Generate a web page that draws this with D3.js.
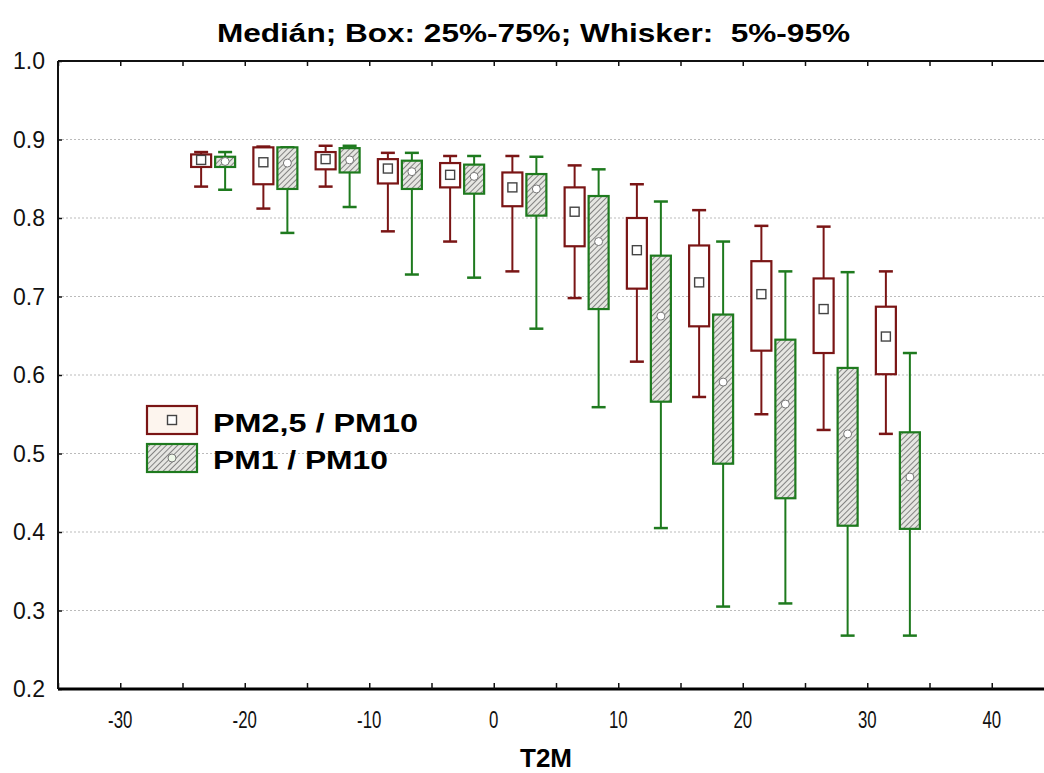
<!DOCTYPE html>
<html lang="cs">
<head>
<meta charset="UTF-8">
<title>Medián; Box: 25%-75%; Whisker: 5%-95%</title>
<script src="https://d3js.org/d3.v7.min.js"></script>
<style>
    body { margin: 0; background: #fff; font-family: "Liberation Sans", Arial, sans-serif; }
    svg { display: block; }
    .grid line { stroke: #bbb; stroke-width: 1; stroke-dasharray: 2 2; }
</style>
</head>
<body>
<svg id="chart" width="1044" height="773"></svg>
<script>
    // T2M class centres
    const groups = [-22.5, -17.5, -12.5, -7.5, -2.5, 2.5, 7.5, 12.5, 17.5, 22.5, 27.5, 32.5];

    // PM2,5 / PM10
    const pm25Lo  = [0.840, 0.812, 0.840, 0.783, 0.770, 0.732, 0.698, 0.617, 0.572, 0.550, 0.530, 0.525];
    const pm25Q1  = [0.865, 0.843, 0.862, 0.844, 0.839, 0.815, 0.764, 0.710, 0.662, 0.631, 0.628, 0.601];
    const pm25Med = [0.874, 0.871, 0.875, 0.863, 0.855, 0.839, 0.808, 0.759, 0.718, 0.703, 0.684, 0.649];
    const pm25Q3  = [0.881, 0.890, 0.884, 0.875, 0.870, 0.858, 0.839, 0.800, 0.765, 0.745, 0.723, 0.687];
    const pm25Hi  = [0.884, 0.891, 0.892, 0.883, 0.879, 0.879, 0.867, 0.843, 0.810, 0.790, 0.789, 0.732];

    // PM1 / PM10
    const pm1Lo  = [0.836, 0.781, 0.814, 0.728, 0.724, 0.659, 0.559, 0.405, 0.305, 0.309, 0.268, 0.268];
    const pm1Q1  = [0.865, 0.837, 0.858, 0.837, 0.831, 0.803, 0.684, 0.566, 0.487, 0.443, 0.408, 0.404];
    const pm1Med = [0.872, 0.870, 0.874, 0.859, 0.853, 0.837, 0.770, 0.675, 0.591, 0.563, 0.525, 0.470];
    const pm1Q3  = [0.878, 0.890, 0.889, 0.873, 0.868, 0.856, 0.828, 0.752, 0.677, 0.645, 0.609, 0.527];
    const pm1Hi  = [0.884, 0.890, 0.892, 0.883, 0.879, 0.878, 0.862, 0.821, 0.770, 0.732, 0.731, 0.628];

    const yTicks = [0.2, 0.3, 0.4, 0.5, 0.6, 0.7, 0.8, 0.9, 1.0];
    const xTicks = [-30, -20, -10, 0, 10, 20, 30, 40];

    const red = "#7a1515";
    const green = "#1e7a1e";

    const svg = d3.select("#chart");

    const x = d3.scaleLinear().domain([-35, 45]).range([58, 1054]);
    const y = d3.scaleLinear().domain([0.2, 1.0]).range([689, 61]);

    // hatch pattern for the PM1 boxes
    const defs = svg.append("defs");
    const pat = defs.append("pattern")
        .attr("id", "hatch")
        .attr("patternUnits", "userSpaceOnUse")
        .attr("width", 4).attr("height", 4)
        .attr("patternTransform", "rotate(45)");
    pat.append("rect").attr("width", 4).attr("height", 4).attr("fill", "#e6e6e2");
    pat.append("line").attr("x1", 0).attr("y1", 0).attr("x2", 0).attr("y2", 4)
        .attr("stroke", "#6a6a6a").attr("stroke-width", 1.6);

    // gridlines
    svg.append("g").attr("class", "grid")
        .selectAll("line")
        .data(yTicks.filter(d => d > 0.2 && d < 1.0))
        .join("line")
        .attr("x1", x(-35)).attr("x2", 1044)
        .attr("y1", d => y(d)).attr("y2", d => y(d));

    // frame: top, left
    svg.append("line").attr("x1", x(-35)).attr("x2", 1044).attr("y1", y(1)).attr("y2", y(1))
        .attr("stroke", "#111").attr("stroke-width", 2);
    svg.append("line").attr("x1", x(-35)).attr("x2", x(-35)).attr("y1", y(1)).attr("y2", y(0.2))
        .attr("stroke", "#111").attr("stroke-width", 2);

    // y axis ticks + labels
    const yAxis = svg.append("g").attr("transform", `translate(${x(-35)},0)`)
        .call(d3.axisRight(y).tickValues(yTicks).tickSize(4).tickFormat(""));
    yAxis.select(".domain").remove();
    yAxis.selectAll(".tick line").attr("stroke", "#111").attr("stroke-width", 1.5);
    svg.append("g").selectAll("text")
        .data(yTicks)
        .join("text")
        .attr("x", 45)
        .attr("y", d => y(d))
        .attr("dy", "0.36em")
        .attr("text-anchor", "end")
        .attr("font-size", 23)
        .attr("fill", "#111")
        .text(d => d.toFixed(1));

    // minor ticks every 5 on top and bottom
    const minor = d3.range(-35, 46, 5);
    const bottomAxis = svg.append("g").attr("transform", `translate(0,${y(0.2)})`)
        .call(d3.axisTop(x).tickValues(minor).tickSize(6).tickFormat(""));
    bottomAxis.select(".domain").attr("stroke-width", 3).attr("d", `M${x(-35)},0H1044`);
    bottomAxis.selectAll(".tick line").attr("stroke", "#111").attr("stroke-width", 1.5);

    const topAxis = svg.append("g").attr("transform", `translate(0,${y(1.0)})`)
        .call(d3.axisBottom(x).tickValues(minor).tickSize(5).tickFormat(""));
    topAxis.select(".domain").remove();
    topAxis.selectAll(".tick line").attr("stroke", "#111").attr("stroke-width", 1.5);

    // narrow-looking x tick labels
    svg.append("g").selectAll("text")
        .data(xTicks)
        .join("text")
        .attr("transform", d => `translate(${x(d)},728) scale(0.7,1)`)
        .attr("text-anchor", "middle")
        .attr("font-size", 24)
        .attr("fill", "#111")
        .text(d => d);

    // box plots
    const series = [
        { lo: pm25Lo, q1: pm25Q1, med: pm25Med, q3: pm25Q3, hi: pm25Hi, dx: -12.5, color: red, fill: "#ffffff", marker: "square" },
        { lo: pm1Lo, q1: pm1Q1, med: pm1Med, q3: pm1Q3, hi: pm1Hi, dx: 11.5, color: green, fill: "url(#hatch)", marker: "circle" }
    ];
    const boxW = 20, capW = 14;

    series.forEach(s => {
        const rows = groups.map((g, i) => ({
            cx: x(g) + s.dx, lo: s.lo[i], q1: s.q1[i], med: s.med[i], q3: s.q3[i], hi: s.hi[i]
        }));
        const g = svg.append("g");

        g.selectAll(".whisker").data(rows).join("line")
            .attr("x1", d => d.cx).attr("x2", d => d.cx)
            .attr("y1", d => y(d.hi)).attr("y2", d => y(d.lo))
            .attr("stroke", s.color).attr("stroke-width", 2);
        g.selectAll(".cap-hi").data(rows).join("line")
            .attr("x1", d => d.cx - capW / 2).attr("x2", d => d.cx + capW / 2)
            .attr("y1", d => y(d.hi)).attr("y2", d => y(d.hi))
            .attr("stroke", s.color).attr("stroke-width", 2.5);
        g.selectAll(".cap-lo").data(rows).join("line")
            .attr("x1", d => d.cx - capW / 2).attr("x2", d => d.cx + capW / 2)
            .attr("y1", d => y(d.lo)).attr("y2", d => y(d.lo))
            .attr("stroke", s.color).attr("stroke-width", 2.5);
        g.selectAll(".box").data(rows).join("rect")
            .attr("x", d => d.cx - boxW / 2)
            .attr("y", d => y(d.q3))
            .attr("width", boxW)
            .attr("height", d => y(d.q1) - y(d.q3))
            .attr("fill", s.fill)
            .attr("stroke", s.color).attr("stroke-width", 2.2);

        if (s.marker === "square") {
            g.selectAll(".med").data(rows).join("rect")
                .attr("x", d => d.cx - 4.5).attr("y", d => y(d.med) - 4.5)
                .attr("width", 9).attr("height", 9)
                .attr("fill", "#fff").attr("stroke", "#444").attr("stroke-width", 1.4);
        } else {
            g.selectAll(".med").data(rows).join("circle")
                .attr("cx", d => d.cx).attr("cy", d => y(d.med)).attr("r", 4)
                .attr("fill", "#fff").attr("stroke", "#777").attr("stroke-width", 1);
        }
    });

    // legend
    const legend = svg.append("g");
    legend.append("rect").attr("x", 147).attr("y", 406).attr("width", 50).attr("height", 28)
        .attr("fill", "#fdf5ee").attr("stroke", red).attr("stroke-width", 2.2);
    legend.append("rect").attr("x", 167.5).attr("y", 415.5).attr("width", 9).attr("height", 9)
        .attr("fill", "#fff").attr("stroke", "#444").attr("stroke-width", 1.4);
    legend.append("rect").attr("x", 147).attr("y", 444).attr("width", 50).attr("height", 28)
        .attr("fill", "url(#hatch)").attr("stroke", green).attr("stroke-width", 2.2);
    legend.append("circle").attr("cx", 172).attr("cy", 458).attr("r", 4)
        .attr("fill", "#eef8e8").attr("stroke", "#777").attr("stroke-width", 1);
    legend.append("text").attr("x", 213).attr("y", 432)
        .attr("font-size", 26).attr("font-weight", "bold")
        .attr("textLength", 205).attr("lengthAdjust", "spacingAndGlyphs")
        .text("PM2,5 / PM10");
    legend.append("text").attr("x", 213).attr("y", 469)
        .attr("font-size", 26).attr("font-weight", "bold")
        .attr("textLength", 175).attr("lengthAdjust", "spacingAndGlyphs")
        .text("PM1 / PM10");

    // title and x axis title
    svg.append("text").attr("x", 217).attr("y", 42)
        .attr("font-size", 26).attr("font-weight", "bold")
        .attr("textLength", 633).attr("lengthAdjust", "spacingAndGlyphs")
        .text("Medián; Box: 25%-75%; Whisker:\u00a0 5%-95%");
    svg.append("text").attr("x", 546).attr("y", 767)
        .attr("text-anchor", "middle")
        .attr("font-size", 26).attr("font-weight", "bold")
        .text("T2M");
</script>
</body>
</html>
